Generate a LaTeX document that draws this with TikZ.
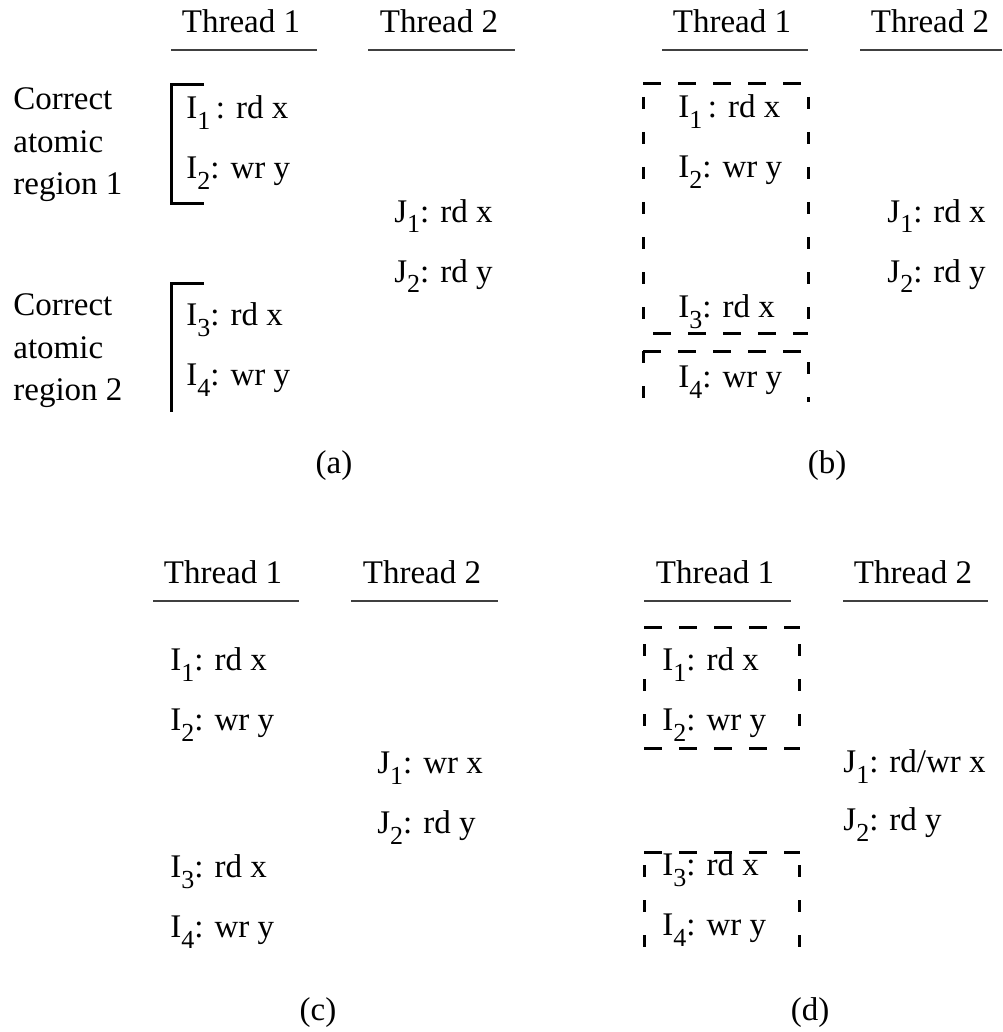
\documentclass[tikz,border=0pt]{standalone}
\usepackage{fontspec}
\setmainfont{Liberation Serif}
\newcommand\mysub[1]{\raisebox{-5.5pt}{\fontsize{13}{13}\selectfont #1}}
\tikzset{
  txt/.style={anchor=base west, inner sep=0pt, font=\fontsize{16.5}{20}\selectfont},
  hdr/.style={anchor=base, inner sep=0pt, font=\fontsize{16.5}{20}\selectfont},
  uline/.style={line width=0.75pt, black!75},
  brk/.style={line width=1.5pt},
  hd/.style={line width=1.5pt, dash pattern=on 9pt off 8.5pt},
  vd/.style={line width=1.5pt, dash pattern=on 6pt off 11.5pt},
}
\begin{document}
\begin{tikzpicture}[x=0.5pt, y=-0.5pt]
\useasboundingbox (0,0) rectangle (1002,1032);
% ---------- (a) ----------
\node[hdr] (a-t1) at (241,33) {Thread 1};
\node[hdr] (a-t2) at (439,33) {Thread 2};
\coordinate (a-u1l) at (171,50); \coordinate (a-u1r) at (317,50);
\coordinate (a-u2l) at (368,50); \coordinate (a-u2r) at (515,50);
\draw[uline] (a-u1l) -- (a-u1r);
\draw[uline] (a-u2l) -- (a-u2r);
\node[txt] (a-c1) at (13,110) {Correct};
\node[txt] (a-c2) at (13,153) {atomic};
\node[txt] (a-c3) at (13,195) {region 1};
\node[txt] (a-d1) at (13,315) {Correct};
\node[txt] (a-d2) at (13,358) {atomic};
\node[txt] (a-d3) at (13,400) {region 2};
\node[txt] (a-i1) at (186,119) {I\mysub{1}\,: rd x};
\node[txt] (a-i2) at (186,179) {I\mysub{2}: wr y};
\node[txt] (a-j1) at (394,222) {J\mysub{1}: rd x};
\node[txt] (a-j2) at (394,282) {J\mysub{2}: rd y};
\node[txt] (a-i3) at (186,325) {I\mysub{3}: rd x};
\node[txt] (a-i4) at (186,385) {I\mysub{4}: wr y};
\coordinate (a-b1a) at (204,85); \coordinate (a-b1b) at (171,85);
\coordinate (a-b1c) at (171,204); \coordinate (a-b1d) at (204,204);
\draw[brk] (a-b1a) -- (a-b1b) -- (a-b1c) -- (a-b1d);
\coordinate (a-b2a) at (204,283); \coordinate (a-b2b) at (171,283);
\coordinate (a-b2c) at (171,412);
\draw[brk] (a-b2a) -- (a-b2b) -- (a-b2c);
\node[hdr] (a-lab) at (334,473) {(a)};
% ---------- (b) ----------
\node[hdr] (b-t1) at (732,33) {Thread 1};
\node[hdr] (b-t2) at (930,33) {Thread 2};
\coordinate (b-u1l) at (662,50); \coordinate (b-u1r) at (808,50);
\coordinate (b-u2l) at (860,50); \coordinate (b-u2r) at (1002,50);
\draw[uline] (b-u1l) -- (b-u1r);
\draw[uline] (b-u2l) -- (b-u2r);
\node[txt] (b-i1) at (678,118) {I\mysub{1}\,: rd x};
\node[txt] (b-i2) at (678,178) {I\mysub{2}: wr y};
\node[txt] (b-i3) at (678,317) {I\mysub{3}: rd x};
\node[txt] (b-i4) at (678,387) {I\mysub{4}: wr y};
\node[txt] (b-j1) at (887,222) {J\mysub{1}: rd x};
\node[txt] (b-j2) at (887,282) {J\mysub{2}: rd y};
\coordinate (b-r1tl) at (643,84); \coordinate (b-r1tr) at (808,84);
\coordinate (b-r1l1) at (643,97); \coordinate (b-r1l2) at (643,333);
\coordinate (b-r1r1) at (808,97); \coordinate (b-r1r2) at (808,333);
\coordinate (b-r1bl) at (653,333); \coordinate (b-r1br) at (808,333);
\draw[hd] (b-r1tl) -- (b-r1tr);
\draw[vd] (b-r1l1) -- (b-r1l2);
\draw[vd] (b-r1r1) -- (b-r1r2);
\draw[hd] (b-r1bl) -- (b-r1br);
\coordinate (b-r2tl) at (643,351); \coordinate (b-r2tr) at (808,351);
\coordinate (b-r2lb) at (643,402);
\coordinate (b-r2r1) at (808,362); \coordinate (b-r2r2) at (808,402);
\draw[hd] (b-r2tl) -- (b-r2tr);
\draw[vd] (b-r2tl) -- (b-r2lb);
\draw[vd] (b-r2r1) -- (b-r2r2);
\node[hdr] (b-lab) at (827,473) {(b)};
% ---------- (c) ----------
\node[hdr] (c-t1) at (223,583) {Thread 1};
\node[hdr] (c-t2) at (422,583) {Thread 2};
\coordinate (c-u1l) at (153,601); \coordinate (c-u1r) at (299,601);
\coordinate (c-u2l) at (351,601); \coordinate (c-u2r) at (498,601);
\draw[uline] (c-u1l) -- (c-u1r);
\draw[uline] (c-u2l) -- (c-u2r);
\node[txt] (c-i1) at (170,670) {I\mysub{1}: rd x};
\node[txt] (c-i2) at (170,730) {I\mysub{2}: wr y};
\node[txt] (c-i3) at (170,877) {I\mysub{3}: rd x};
\node[txt] (c-i4) at (170,937) {I\mysub{4}: wr y};
\node[txt] (c-j1) at (377,773) {J\mysub{1}: wr x};
\node[txt] (c-j2) at (377,833) {J\mysub{2}: rd y};
\node[hdr] (c-lab) at (318,1020) {(c)};
% ---------- (d) ----------
\node[hdr] (d-t1) at (715,583) {Thread 1};
\node[hdr] (d-t2) at (913,583) {Thread 2};
\coordinate (d-u1l) at (644,601); \coordinate (d-u1r) at (791,601);
\coordinate (d-u2l) at (843,601); \coordinate (d-u2r) at (988,601);
\draw[uline] (d-u1l) -- (d-u1r);
\draw[uline] (d-u2l) -- (d-u2r);
\node[txt] (d-i1) at (662,670) {I\mysub{1}: rd x};
\node[txt] (d-i2) at (662,730) {I\mysub{2}: wr y};
\node[txt] (d-i3) at (662,875) {I\mysub{3}: rd x};
\node[txt] (d-i4) at (662,935) {I\mysub{4}: wr y};
\node[txt] (d-j1) at (843,772) {J\mysub{1}: rd/wr x};
\node[txt] (d-j2) at (843,830) {J\mysub{2}: rd y};
\coordinate (d-r1tl) at (644,627); \coordinate (d-r1tr) at (800,627);
\coordinate (d-r1l1) at (644,644); \coordinate (d-r1l2) at (644,748);
\coordinate (d-r1r1) at (799,644); \coordinate (d-r1r2) at (799,748);
\coordinate (d-r1bl) at (644,748); \coordinate (d-r1br) at (800,748);
\draw[hd] (d-r1tl) -- (d-r1tr);
\draw[vd] (d-r1l1) -- (d-r1l2);
\draw[vd] (d-r1r1) -- (d-r1r2);
\draw[hd] (d-r1bl) -- (d-r1br);
\coordinate (d-r2tl) at (644,852); \coordinate (d-r2tr) at (800,852);
\coordinate (d-r2l1) at (644,865); \coordinate (d-r2l2) at (644,953);
\coordinate (d-r2r1) at (799,865); \coordinate (d-r2r2) at (799,953);
\draw[hd] (d-r2tl) -- (d-r2tr);
\draw[vd] (d-r2l1) -- (d-r2l2);
\draw[vd] (d-r2r1) -- (d-r2r2);
\node[hdr] (d-lab) at (810,1020) {(d)};
\end{tikzpicture}
\end{document}
